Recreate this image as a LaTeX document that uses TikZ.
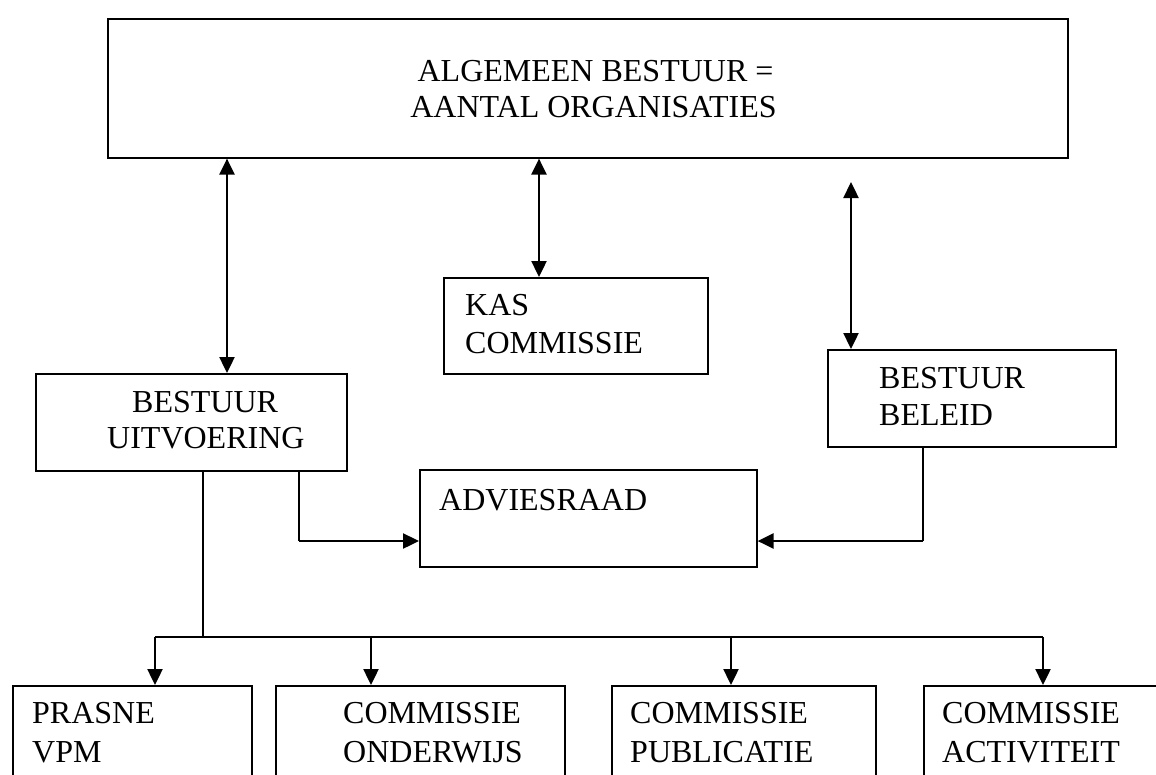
\documentclass[tikz,border=0pt]{standalone}
\usepackage{fontspec}
\setmainfont{Liberation Serif}
\usetikzlibrary{arrows.meta}
\begin{document}
\begin{tikzpicture}[x=1pt,y=-1pt,
  box/.style={draw, line width=1.6pt, rectangle, inner sep=0pt, anchor=north west},
  lbl/.style={inner sep=0pt, anchor=base west, font=\fontsize{32}{37}\selectfont},
  link/.style={line width=1.6pt},
  arr/.style={line width=2.4pt, -{Triangle[length=16pt,width=15pt]}},
  darr/.style={line width=2.4pt, {Triangle[length=16pt,width=15pt]}-{Triangle[length=16pt,width=15pt]}}]
\useasboundingbox (0,0) rectangle (1156,774);
\clip (0,0) rectangle (1156,774);

% boxes
\node[box, minimum width=960pt, minimum height=139pt] (top) at (107,18) {};
\node[box, minimum width=264pt, minimum height=96pt] (kas) at (443,277) {};
\node[box, minimum width=311pt, minimum height=97pt] (bu) at (35,373) {};
\node[box, minimum width=288pt, minimum height=97pt] (bb) at (827,349) {};
\node[box, minimum width=337pt, minimum height=97pt] (adv) at (419,469) {};
\node[box, minimum width=239pt, minimum height=120pt] (b1) at (12,685) {};
\node[box, minimum width=289pt, minimum height=120pt] (b2) at (275,685) {};
\node[box, minimum width=264pt, minimum height=120pt] (b3) at (611,685) {};
\node[box, minimum width=260pt, minimum height=120pt] (b4) at (923,685) {};

% texts
\node[lbl, anchor=base] (t1a) at (595.5,81) {ALGEMEEN BESTUUR =};
\node[lbl, anchor=base] (t1b) at (593.5,117) {AANTAL ORGANISATIES};
\node[lbl] (kasa) at (465,315) {KAS};
\node[lbl] (kasb) at (465,353) {COMMISSIE};
\node[lbl] (bua) at (132,412) {BESTUUR};
\node[lbl] (bub) at (107,448) {UITVOERING};
\node[lbl] (bba) at (879,388) {BESTUUR};
\node[lbl] (bbb) at (879,425) {BELEID};
\node[lbl] (adva) at (439,510) {ADVIESRAAD};
\node[lbl] (b1a) at (32,723) {PRASNE};
\node[lbl] (b1b) at (32,762) {VPM};
\node[lbl] (b2a) at (343,723) {COMMISSIE};
\node[lbl] (b2b) at (343,762) {ONDERWIJS};
\node[lbl] (b3a) at (630,723) {COMMISSIE};
\node[lbl] (b3b) at (630,762) {PUBLICATIE};
\node[lbl] (b4a) at (942,723) {COMMISSIE};
\node[lbl] (b4b) at (942,762) {ACTIVITEIT};

% helper coordinates
\coordinate (a1) at (227,0);
\coordinate (a2) at (539,0);
\coordinate (a3) at (851,182);
\coordinate (c1) at (299,0);
\coordinate (c2) at (923,0);
\coordinate (c3) at (203,0);
\coordinate (ay) at (0,541);
\coordinate (bl) at (155,637);
\coordinate (br) at (1043,637);
\coordinate (d2) at (371,637);
\coordinate (d3) at (731,637);

% connectors
\draw[darr] (top.south -| a1) -- (bu.north -| a1);
\draw[darr] (top.south -| a2) -- (kas.north -| a2);
\draw[darr] (a3) -- (bb.north -| a3);
\draw[link] (bu.south -| c1) -- (c1 |- ay);
\draw[arr] (c1 |- ay) -- (adv.west |- ay);
\draw[link] (bb.south -| c2) -- (c2 |- ay);
\draw[arr] (c2 |- ay) -- (adv.east |- ay);
\draw[link] (bu.south -| c3) -- (c3 |- bl);
\draw[link] (bl) -- (br);
\draw[arr] (bl) -- (b1.north -| bl);
\draw[arr] (d2) -- (b2.north -| d2);
\draw[arr] (d3) -- (b3.north -| d3);
\draw[arr] (br) -- (b4.north -| br);
\end{tikzpicture}
\end{document}
